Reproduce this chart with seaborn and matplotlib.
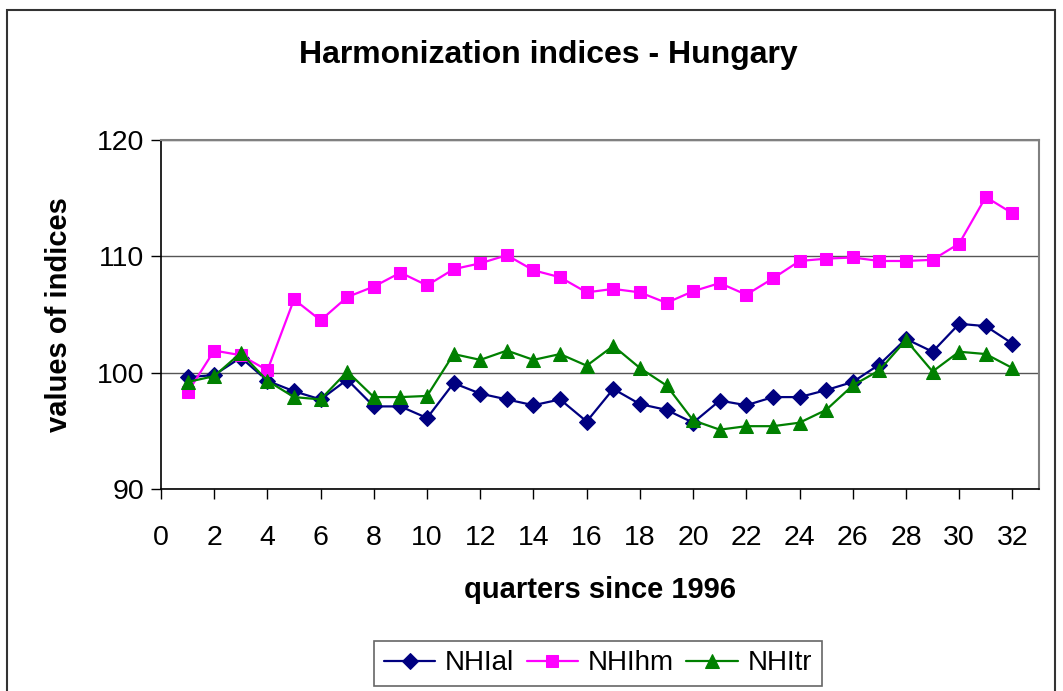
import matplotlib
matplotlib.use("Agg")
import matplotlib.pyplot as plt
import seaborn as sns
import numpy as np
import pandas as pd
from matplotlib.patches import Rectangle

# quarters since 1996
quarters = list(range(1, 33))

# values
nhial = [99.6, 99.8, 101.3, 99.3, 98.4, 97.7, 99.4, 97.1, 97.1, 96.1,
         99.1, 98.2, 97.7, 97.2, 97.7, 95.8, 98.6, 97.3, 96.8, 95.7,
         97.6, 97.2, 97.9, 97.9, 98.5, 99.2, 100.7, 102.9, 101.8, 104.2,
         104.0, 102.5]
nhihm = [98.3, 101.9, 101.5, 100.2, 106.3, 104.5, 106.5, 107.4, 108.6, 107.5,
         108.9, 109.4, 110.1, 108.8, 108.2, 106.9, 107.2, 106.9, 106.0, 107.0,
         107.7, 106.7, 108.1, 109.6, 109.8, 109.9, 109.6, 109.6, 109.7, 111.1,
         115.1, 113.7]
nhitr = [99.2, 99.7, 101.7, 99.3, 97.9, 97.7, 100.1, 97.9, 97.9, 98.0,
         101.6, 101.1, 101.9, 101.1, 101.6, 100.6, 102.3, 100.4, 98.9, 95.9,
         95.1, 95.4, 95.4, 95.7, 96.8, 98.9, 100.2, 102.8, 100.1, 101.8,
         101.6, 100.4]

series_names = ["NHIal", "NHIhm", "NHItr"]
series_values = [nhial, nhihm, nhitr]
colors = ["#000080", "#FF00FF", "#008000"]
markers = ["D", "s", "^"]
marker_sizes = [8.5, 9, 10.5]

sns.set_style("white")
plt.rcParams['font.family'] = ['Liberation Sans', 'DejaVu Sans']
plt.rcParams['text.color'] = 'black'
plt.rcParams['axes.labelcolor'] = 'black'
plt.rcParams['xtick.color'] = 'black'
plt.rcParams['ytick.color'] = 'black'

fig = plt.figure(figsize=(10.63, 6.91), dpi=100)
ax = fig.add_axes([161 / 1063, 1 - 489 / 691, (1039 - 161) / 1063, (489 - 140) / 691])

df = pd.DataFrame({"quarter": quarters})
for name, vals in zip(series_names, series_values):
    df[name] = vals

for name, c, m, ms in zip(series_names, colors, markers, marker_sizes):
    sns.lineplot(data=df, x="quarter", y=name, ax=ax, color=c, marker=m,
                 markersize=ms, markeredgecolor=c, linewidth=1.6, label=name,
                 legend=False)

ax.set_xlim(0, 33)
ax.set_ylim(90, 120)
ax.set_xticks(np.arange(0, 33, 2))
ax.set_yticks([90, 100, 110, 120])
ax.tick_params(axis="both", labelsize=20.5, direction="out", width=1,
               color="black", bottom=True, left=True)
ax.tick_params(axis="x", length=7, pad=19)
ax.tick_params(axis="y", length=7, pad=5)
ax.yaxis.grid(True, color="#555555", linewidth=1)
ax.set_axisbelow(True)

for side in ["left", "bottom"]:
    ax.spines[side].set_color("black")
    ax.spines[side].set_linewidth(1.2)
for side in ["right", "top"]:
    ax.spines[side].set_visible(True)
    ax.spines[side].set_color("#808080")
    ax.spines[side].set_linewidth(1.5)

ax.set_xlabel("quarters since 1996", fontsize=21, fontweight="bold", labelpad=18)
ax.set_ylabel("values of indices", fontsize=21, fontweight="bold", labelpad=17)

fig.text(548 / 1063, 1 - 55 / 691, "Harmonization indices - Hungary",
         ha="center", va="center", fontsize=23, fontweight="bold")

handles, labels = ax.get_legend_handles_labels()
leg = fig.legend(handles, labels, loc="lower center", ncol=3,
                 bbox_to_anchor=(598 / 1063, -0.013), fontsize=20,
                 frameon=True, fancybox=False, edgecolor="#404040",
                 handlelength=1.85, handletextpad=0.35, columnspacing=0.45,
                 borderpad=0.35)
leg.get_frame().set_linewidth(1.2)

# outer chart border
fig.patches.append(Rectangle((7 / 1063, -0.05), (1055 - 7) / 1063, 0.05 + 1 - 10 / 691,
                             transform=fig.transFigure, fill=False,
                             edgecolor="#333333", linewidth=1.5))

fig.savefig("out.png", dpi=100, facecolor="white")
